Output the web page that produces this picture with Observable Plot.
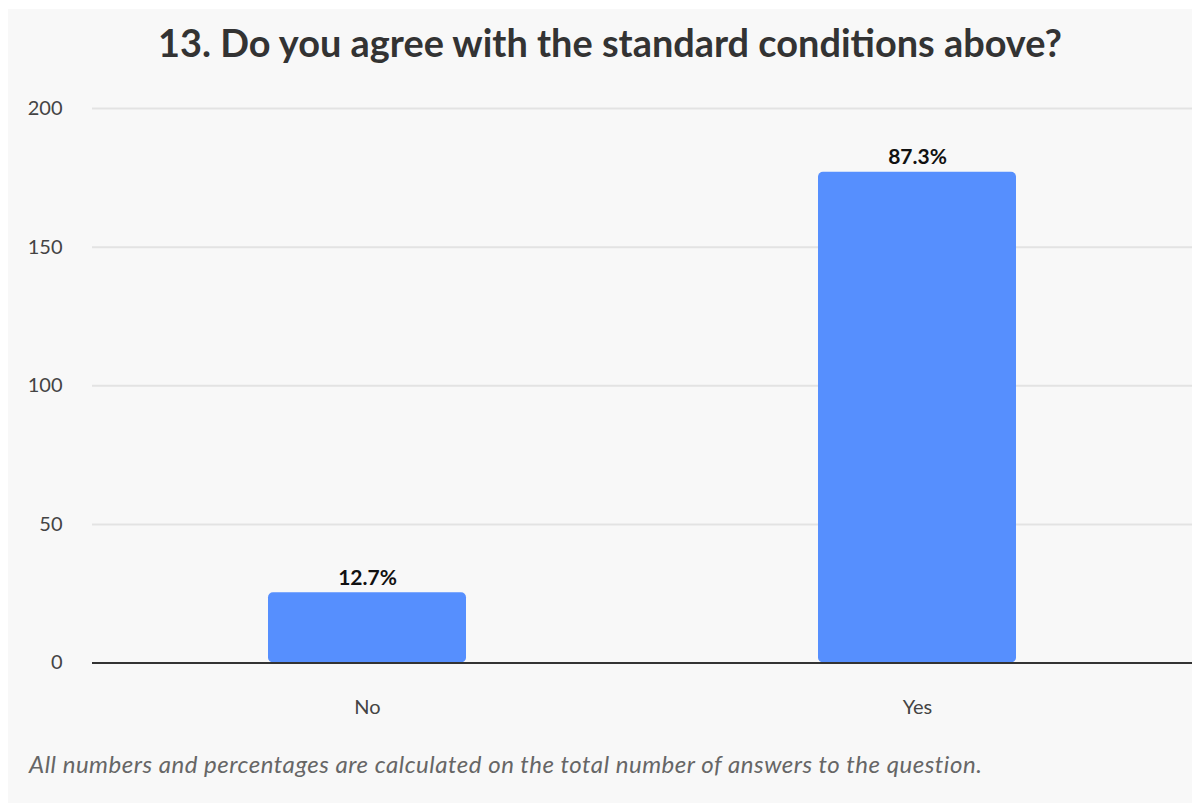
<!DOCTYPE html>
<html><head><meta charset="utf-8">
<script src="https://cdn.jsdelivr.net/npm/d3@7"></script>
<script src="https://cdn.jsdelivr.net/npm/@observablehq/plot@0.6"></script>
<style>
html,body{margin:0;padding:0;background:#fff;width:1200px;height:803px;overflow:hidden;font-family:Lato,"Noto Sans",sans-serif;}
#panel{position:absolute;left:8px;top:9px;width:1184px;height:794px;background:#f8f8f8;}
#title{position:absolute;left:10px;top:21px;width:1200px;text-align:center;font-weight:700;font-size:37.9px;color:#333;line-height:44px;}
#chart{position:absolute;left:0;top:80px;}
#caption{position:absolute;left:29px;top:748px;font-style:italic;font-size:24px;letter-spacing:0.52px;color:#666;line-height:32px;}
</style></head>
<body>
<div id="panel"></div>
<div id="title">13. Do you agree with the standard conditions above?</div>
<div id="chart"></div>
<div id="caption">All numbers and percentages are calculated on the total number of answers to the question.</div>
<script>
const categories = ["No", "Yes"];
const counts = [25.3, 177];
const percentLabels = ["12.7%", "87.3%"];
const yTicks = [0, 50, 100, 150, 200];

const data = categories.map((c, i) => ({answer: c, count: counts[i], label: percentLabels[i]}));

const chart = Plot.plot({
  width: 1200,
  height: 650,
  marginLeft: 92,
  marginRight: 8,
  marginTop: 28,
  marginBottom: 67.5,
  style: {background: "transparent", fontFamily: "Lato, 'Noto Sans', sans-serif", fontSize: "20px", color: "#444"},
  x: {domain: categories, paddingInner: 0.64, paddingOuter: 0.32, label: null, tickSize: 0, tickPadding: 37},
  y: {domain: [0, 200], ticks: yTicks, label: null, tickSize: 0, tickPadding: 30},
  marks: [
    Plot.gridY(yTicks.filter(d => d > 0), {stroke: "#e3e3e3", strokeOpacity: 1, strokeWidth: 2}),
    Plot.barY(data, {x: "answer", y: "count", fill: "#568ffe", rx: 5}),
    Plot.ruleY([0], {stroke: "#333", strokeWidth: 2}),
    Plot.text(data, {x: "answer", y: "count", text: "label", dy: -15, fontWeight: "bold", fontSize: 21, fill: "#111"})
  ]
});
document.getElementById("chart").appendChild(chart);
</script>
</body></html>
